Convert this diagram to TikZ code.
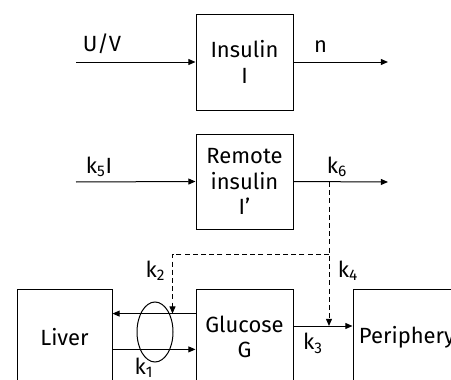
\documentclass[tikz,border=0pt]{standalone}
\usepackage{fontspec}
\setmainfont{Fira Sans}
\usetikzlibrary{arrows.meta,calc,positioning,shapes.geometric}

\begin{document}
\begin{tikzpicture}[x=0.5pt,y=-0.5pt,>={Triangle[length=3.6pt,width=3pt]},
  font=\fontsize{11}{12.8}\selectfont,line width=0.5pt,
  box/.style={draw,align=center,minimum width=48.5pt,minimum height=48pt,inner sep=0pt},
  lbl/.style={anchor=base,inner sep=0pt},
  ctrl/.style={->,dash pattern=on 2.5pt off 1.6pt}]
  \clip (0,0) rectangle (451,380);

  \node[box] (insulin) at (244.5,62) {Insulin\\I};
  \node[box,minimum height=47.5pt] (remote) at (244.5,181.5) {Remote\\insulin\\I'};
  \node[box,minimum width=47.5pt] (liver) at (64.5,337) {Liver};
  \node[box] (glucose) at (244.5,337) {Glucose\\G};
  \node[box,minimum width=54pt] (periphery) at (407,337) {Periphery};
  \node[draw,ellipse,minimum width=18pt,minimum height=30pt,inner sep=0pt] (loop) at (155,332) {};

  \coordinate (uvin) at (76,62);
  \coordinate (nout) at (388,62);
  \coordinate (kin) at (76,182);
  \coordinate (kout) at (388,182);
  \coordinate (tap) at (329,182);
  \coordinate (bend) at (329,254);
  \coordinate (corner) at (172.5,254);
  \coordinate (gl) at ([yshift=11.7pt]glucose.west);
  \coordinate (lg) at ([yshift=-6.2pt]liver.east);
  \coordinate (gp) at ([yshift=5.5pt]glucose.east);

  \draw[->] (uvin) -- (insulin.west);
  \draw[->] (insulin.east) -- (nout);
  \draw[->] (kin) -- (remote.west);
  \draw[->] (remote.east) -- (kout);

  \draw[->] (gl) -- (gl -| liver.east);
  \draw[->] (lg) -- (lg -| glucose.west);
  \draw[->] (gp) -- (gp -| periphery.west);

  \draw[ctrl] (tap) -- (tap |- gp);
  \draw[ctrl] (bend) -- (corner) -- (corner |- gl);

  \node[lbl] (uv) at (102,52) {U/V};
  \node[lbl] (n) at (320.5,53) {n};
  \node[lbl] (k5) at (99,173) {k\textsubscript{5}I};
  \node[lbl] (k6) at (337,173) {k\textsubscript{6}};
  \node[lbl] (k2) at (155.5,277.5) {k\textsubscript{2}};
  \node[lbl] (k4) at (348,277.5) {k\textsubscript{4}};
  \node[lbl] (k3) at (313,350) {k\textsubscript{3}};
  \node[lbl] (k1) at (144,374) {k\textsubscript{1}};
\end{tikzpicture}
\end{document}
